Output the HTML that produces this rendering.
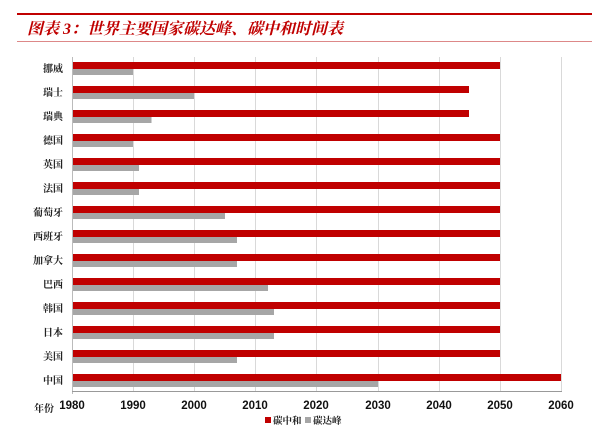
<!DOCTYPE html>
<html><head><meta charset="utf-8"><style>
html,body{margin:0;padding:0;background:#fff;}
</style></head><body>
<svg width="600" height="438" xmlns="http://www.w3.org/2000/svg" style="display:block">
<rect width="600" height="438" fill="#fff"/>
<rect x="17" y="13" width="575" height="2" fill="#c00000"/>
<rect x="17" y="41" width="575" height="1" fill="#d88"/>
<text x="27" y="34" font-family="'Liberation Serif','Noto Serif CJK SC',serif" font-size="16" font-weight="bold" font-style="italic" fill="#c00000">图表 3：世界主要国家碳达峰、碳中和时间表</text>
<g stroke="#d9d9d9" stroke-width="1">
<line x1="133.5" y1="57" x2="133.5" y2="391"/><line x1="194.5" y1="57" x2="194.5" y2="391"/><line x1="255.5" y1="57" x2="255.5" y2="391"/><line x1="316.5" y1="57" x2="316.5" y2="391"/><line x1="378.5" y1="57" x2="378.5" y2="391"/><line x1="439.5" y1="57" x2="439.5" y2="391"/><line x1="500.5" y1="57" x2="500.5" y2="391"/><line x1="561.5" y1="57" x2="561.5" y2="391"/>
</g>
<line x1="72.5" y1="57" x2="72.5" y2="394" stroke="#bbb"/>
<line x1="72" y1="391.5" x2="562" y2="391.5" stroke="#999"/>
<g fill="#c00000">
<rect x="73" y="62" width="427" height="7"/>
<rect x="73" y="86" width="396" height="7"/>
<rect x="73" y="110" width="396" height="7"/>
<rect x="73" y="134" width="427" height="7"/>
<rect x="73" y="158" width="427" height="7"/>
<rect x="73" y="182" width="427" height="7"/>
<rect x="73" y="206" width="427" height="7"/>
<rect x="73" y="230" width="427" height="7"/>
<rect x="73" y="254" width="427" height="7"/>
<rect x="73" y="278" width="427" height="7"/>
<rect x="73" y="302" width="427" height="7"/>
<rect x="73" y="326" width="427" height="7"/>
<rect x="73" y="350" width="427" height="7"/>
<rect x="73" y="374" width="488" height="7"/>
</g>
<g fill="#a6a6a6">
<rect x="73" y="69" width="60" height="6"/>
<rect x="73" y="93" width="121" height="6"/>
<rect x="73" y="117" width="78.5" height="6"/>
<rect x="73" y="141" width="60" height="6"/>
<rect x="73" y="165" width="66" height="6"/>
<rect x="73" y="189" width="66" height="6"/>
<rect x="73" y="213" width="152" height="6"/>
<rect x="73" y="237" width="164" height="6"/>
<rect x="73" y="261" width="164" height="6"/>
<rect x="73" y="285" width="195" height="6"/>
<rect x="73" y="309" width="201" height="6"/>
<rect x="73" y="333" width="201" height="6"/>
<rect x="73" y="357" width="164" height="6"/>
<rect x="73" y="381" width="305" height="6"/>
</g>
<g font-family="'Noto Serif CJK SC',serif" font-size="10" font-weight="bold" fill="#222" text-anchor="end">
<text x="63" y="72">挪威</text>
<text x="63" y="96">瑞士</text>
<text x="63" y="120">瑞典</text>
<text x="63" y="144">德国</text>
<text x="63" y="168">英国</text>
<text x="63" y="192">法国</text>
<text x="63" y="216">葡萄牙</text>
<text x="63" y="240">西班牙</text>
<text x="63" y="264">加拿大</text>
<text x="63" y="288">巴西</text>
<text x="63" y="312">韩国</text>
<text x="63" y="336">日本</text>
<text x="63" y="360">美国</text>
<text x="63" y="384">中国</text>
</g>
<g font-family="'Liberation Sans',Arial,sans-serif" font-size="11.5" font-weight="bold" fill="#111" text-anchor="middle">
<text x="72" y="409">1980</text><text x="133" y="409">1990</text><text x="194" y="409">2000</text><text x="255" y="409">2010</text><text x="316" y="409">2020</text><text x="378" y="409">2030</text><text x="439" y="409">2040</text><text x="500" y="409">2050</text><text x="561" y="409">2060</text>
</g>
<text x="34" y="412" font-family="'Noto Serif CJK SC',serif" font-size="10" font-weight="bold" fill="#222">年份</text>
<rect x="265" y="417" width="6" height="6" fill="#c00000"/>
<text x="273" y="424" font-family="'Noto Serif CJK SC',serif" font-size="9.5" font-weight="bold" fill="#222">碳中和</text>
<rect x="305" y="417" width="6" height="6" fill="#a6a6a6"/>
<text x="313" y="424" font-family="'Noto Serif CJK SC',serif" font-size="9.5" font-weight="bold" fill="#222">碳达峰</text>
</svg>
</body></html>
